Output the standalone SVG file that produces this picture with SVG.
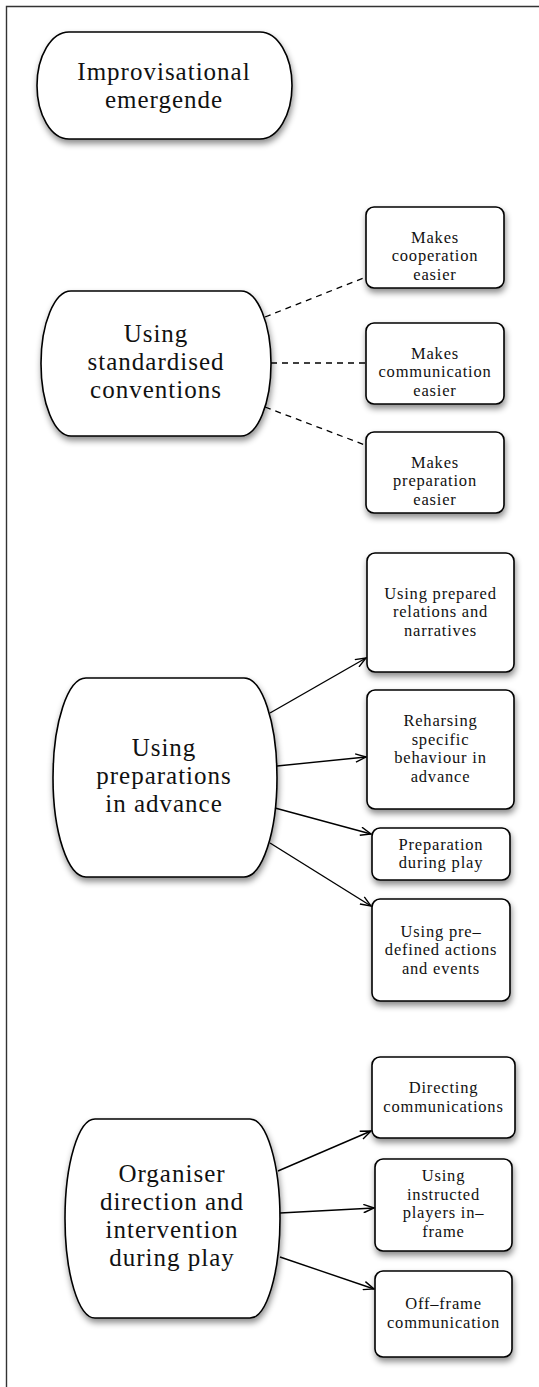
<svg xmlns="http://www.w3.org/2000/svg" width="539" height="1387" viewBox="0 0 539 1387">
  <defs>
    <filter id="shadow" x="-20%" y="-20%" width="140%" height="150%">
      <feDropShadow dx="1" dy="4" stdDeviation="3" flood-color="#000" flood-opacity="0.45"/>
    </filter>
    <marker id="arrow" viewBox="0 0 12 10" refX="11" refY="5" markerWidth="12" markerHeight="10" markerUnits="userSpaceOnUse" orient="auto">
      <path d="M0.5,0.8 L11,5 L0.5,9.2" fill="none" stroke="#000" stroke-width="1.4"/>
    </marker>
    <style>
      .frame { fill: none; stroke: #333; stroke-width: 1.4; }
      .shape { fill: #fff; stroke: #000; stroke-width: 1.6; filter: url(#shadow); }
      .big { font-family: "Liberation Serif", "Times New Roman", serif; font-size: 25px; letter-spacing: 1px; fill: #111; text-anchor: middle; }
      .small { font-family: "Liberation Serif", "Times New Roman", serif; font-size: 16.5px; letter-spacing: 0.8px; fill: #111; text-anchor: middle; }
      .dash { fill: none; stroke: #000; stroke-width: 1.3; stroke-dasharray: 6 5; }
      .arr { fill: none; stroke: #000; stroke-width: 1.4; marker-end: url(#arrow); }
    </style>
  </defs>

  <rect width="539" height="1387" fill="#fff"/>
  <!-- page frame, open to the right and bottom -->
  <path class="frame" d="M539,6.5 H6.5 V1387"/>

  <!-- top-level idea -->
  <g id="improvisational-emergende">
    <rect class="shape" x="37" y="32" width="255" height="107" rx="32" ry="53.5"/>
    <text class="big" x="164" y="79.5"><tspan x="164">Improvisational</tspan><tspan x="164" dy="28">emergende</tspan></text>
  </g>

  <!-- standardised conventions branch -->
  <g id="standardised-conventions">
    <rect class="shape" x="41" y="291" width="230" height="145" rx="30" ry="72.5"/>
    <text class="big" x="156" y="342"><tspan x="156">Using</tspan><tspan x="156" dy="28">standardised</tspan><tspan x="156" dy="28">conventions</tspan></text>
  </g>
  <g id="cooperation-easier">
    <rect class="shape" x="366" y="207" width="138" height="81" rx="8"/>
    <text class="small" x="435" y="242.5"><tspan x="435">Makes</tspan><tspan x="435" dy="18.5">cooperation</tspan><tspan x="435" dy="18.5">easier</tspan></text>
  </g>
  <g id="communication-easier">
    <rect class="shape" x="366" y="323" width="138" height="81" rx="8"/>
    <text class="small" x="435" y="358.5"><tspan x="435">Makes</tspan><tspan x="435" dy="18.5">communication</tspan><tspan x="435" dy="18.5">easier</tspan></text>
  </g>
  <g id="preparation-easier">
    <rect class="shape" x="366" y="432" width="138" height="81" rx="8"/>
    <text class="small" x="435" y="467.5"><tspan x="435">Makes</tspan><tspan x="435" dy="18.5">preparation</tspan><tspan x="435" dy="18.5">easier</tspan></text>
  </g>

  <!-- preparations in advance branch -->
  <g id="preparations-in-advance">
    <rect class="shape" x="53" y="678" width="224" height="199" rx="33" ry="99.5"/>
    <text class="big" x="164" y="756"><tspan x="164">Using</tspan><tspan x="164" dy="28">preparations</tspan><tspan x="164" dy="28">in advance</tspan></text>
  </g>
  <g id="prepared-relations">
    <rect class="shape" x="367" y="553" width="147" height="119" rx="8"/>
    <text class="small" x="440.5" y="598.5"><tspan x="440.5">Using prepared</tspan><tspan x="440.5" dy="18.5">relations and</tspan><tspan x="440.5" dy="18.5">narratives</tspan></text>
  </g>
  <g id="rehearsing-behaviour">
    <rect class="shape" x="367" y="690" width="147" height="119" rx="8"/>
    <text class="small" x="440.5" y="726.25"><tspan x="440.5">Reharsing</tspan><tspan x="440.5" dy="18.5">specific</tspan><tspan x="440.5" dy="18.5">behaviour in</tspan><tspan x="440.5" dy="18.5">advance</tspan></text>
  </g>
  <g id="preparation-during-play">
    <rect class="shape" x="372" y="828" width="138" height="52" rx="8"/>
    <text class="small" x="441" y="849.75"><tspan x="441">Preparation</tspan><tspan x="441" dy="18.5">during play</tspan></text>
  </g>
  <g id="predefined-actions">
    <rect class="shape" x="372" y="899" width="138" height="102" rx="8"/>
    <text class="small" x="441" y="936.5"><tspan x="441">Using pre–</tspan><tspan x="441" dy="18.5">defined actions</tspan><tspan x="441" dy="18.5">and events</tspan></text>
  </g>

  <!-- organiser direction branch -->
  <g id="organiser-direction">
    <rect class="shape" x="65" y="1119" width="215" height="199" rx="30" ry="99.5"/>
    <text class="big" x="172" y="1181.5"><tspan x="172">Organiser</tspan><tspan x="172" dy="28">direction and</tspan><tspan x="172" dy="28">intervention</tspan><tspan x="172" dy="28">during play</tspan></text>
  </g>
  <g id="directing-communications">
    <rect class="shape" x="372" y="1057" width="143" height="81" rx="8"/>
    <text class="small" x="443.5" y="1093.25"><tspan x="443.5">Directing</tspan><tspan x="443.5" dy="18.5">communications</tspan></text>
  </g>
  <g id="instructed-players">
    <rect class="shape" x="375" y="1159" width="137" height="92" rx="8"/>
    <text class="small" x="443.5" y="1181.25"><tspan x="443.5">Using</tspan><tspan x="443.5" dy="18.5">instructed</tspan><tspan x="443.5" dy="18.5">players in–</tspan><tspan x="443.5" dy="18.5">frame</tspan></text>
  </g>
  <g id="off-frame-communication">
    <rect class="shape" x="375" y="1271" width="137" height="86" rx="8"/>
    <text class="small" x="443.5" y="1309.25"><tspan x="443.5">Off–frame</tspan><tspan x="443.5" dy="18.5">communication</tspan></text>
  </g>

  <!-- connectors -->
  <g id="connectors">
    <path class="dash" d="M265,317 L366,277"/>
    <path class="dash" d="M271,363 L366,363"/>
    <path class="dash" d="M265,407 L365,445"/>

    <path class="arr" d="M270,713 L366,658"/>
    <path class="arr" d="M277,766 L366,757"/>
    <path class="arr" d="M275,808 L371,834"/>
    <path class="arr" d="M270,843 L371,906"/>

    <path class="arr" d="M278,1171 L371,1131"/>
    <path class="arr" d="M280,1213 L374,1208"/>
    <path class="arr" d="M280,1257 L374,1289"/>
  </g>
</svg>
